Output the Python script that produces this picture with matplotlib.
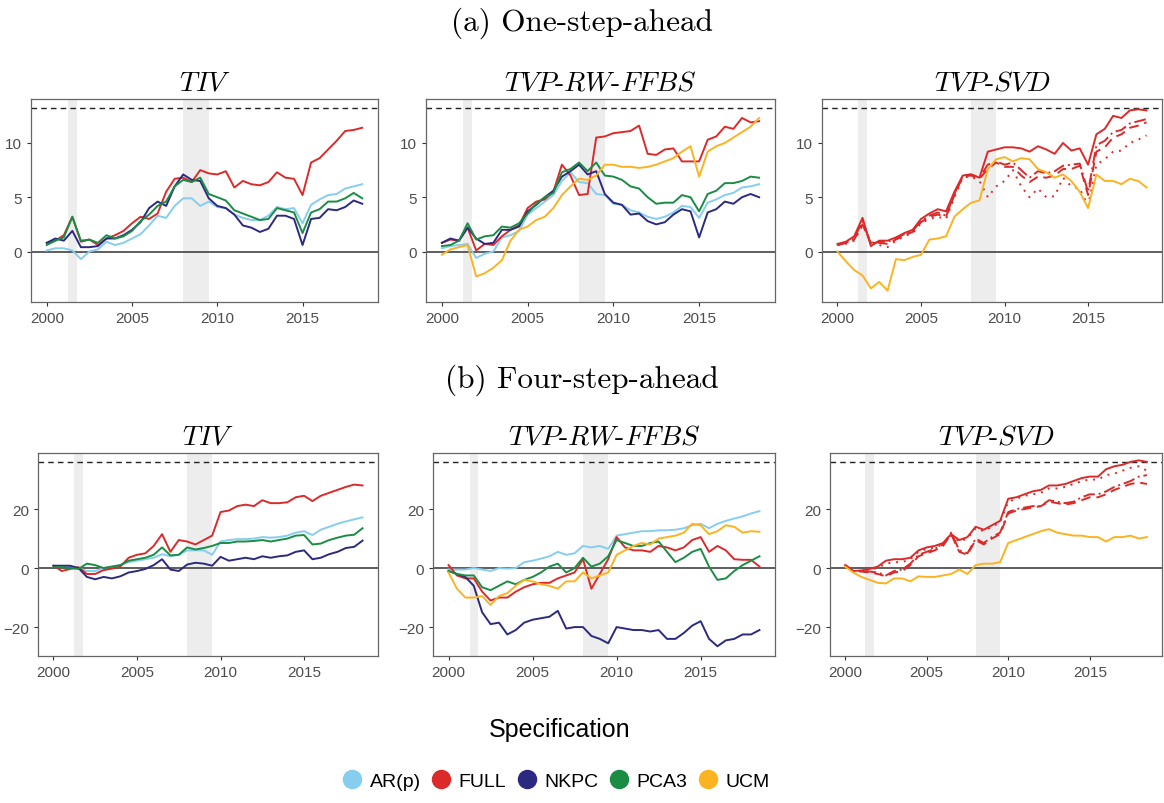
import matplotlib
matplotlib.use("Agg")
import matplotlib.pyplot as plt
from matplotlib.lines import Line2D
import numpy as np

# half-yearly grid, 2000 .. 2018.5
years = np.arange(2000, 2018.75, 0.5)

specs = ["AR(p)", "FULL", "NKPC", "PCA3", "UCM"]
colors = {"AR(p)": "#86cdee", "FULL": "#dc2a2a", "NKPC": "#2c2a80",
          "PCA3": "#1b8c44", "UCM": "#fbb322"}

# (a) one-step-ahead
ar1_tiv = [0.1, 0.3, 0.3, 0.1, -0.7, 0.0, 0.2, 0.9, 0.6, 0.8, 1.2, 1.6, 2.4, 3.3, 3.1, 4.2, 4.9, 4.9, 4.2, 4.6,
           4.1, 4.0, 3.4, 3.1, 2.9, 2.9, 3.3, 4.1, 3.9, 4.0, 2.6, 4.3, 4.8, 5.2, 5.3, 5.8, 6.0, 6.2]
full1_tiv = [0.8, 1.0, 1.5, 3.2, 0.9, 1.1, 0.6, 1.2, 1.5, 1.9, 2.6, 3.2, 3.0, 3.5, 5.5, 6.7, 6.8, 6.4, 7.5, 7.2,
             7.1, 7.4, 5.9, 6.5, 6.2, 6.1, 6.4, 7.3, 6.8, 6.7, 5.2, 8.2, 8.6, 9.4, 10.2, 11.1, 11.2, 11.4]
nkpc1_tiv = [0.8, 1.2, 1.0, 1.9, 0.4, 0.4, 0.5, 1.2, 1.2, 1.5, 2.0, 2.7, 4.0, 4.6, 4.2, 6.0, 7.1, 6.6, 6.5, 4.9,
             4.2, 4.0, 3.4, 2.4, 2.2, 1.8, 2.1, 3.3, 3.3, 3.0, 0.6, 3.0, 3.1, 3.9, 3.8, 4.1, 4.7, 4.4]
pca1_tiv = [0.6, 1.0, 1.3, 3.2, 1.0, 1.1, 0.8, 1.5, 1.2, 1.4, 1.9, 2.8, 3.4, 4.2, 4.6, 6.0, 6.6, 6.4, 6.8, 5.3,
            5.0, 4.7, 3.8, 3.5, 3.2, 2.9, 3.0, 4.0, 3.8, 3.6, 1.7, 3.6, 3.9, 4.6, 4.6, 4.9, 5.4, 4.9]

ar1_ffbs = [0.3, 0.5, 0.6, 0.7, -0.6, -0.2, 0.0, 1.3, 1.5, 1.9, 3.4, 4.0, 4.6, 5.2, 6.5, 7.3, 6.4, 6.3, 5.3, 5.2,
            4.4, 4.3, 3.8, 3.6, 3.2, 3.0, 3.2, 3.6, 4.2, 4.1, 3.1, 4.5, 4.8, 5.2, 5.4, 5.9, 6.0, 6.2]
full1_ffbs = [0.8, 1.1, 1.0, 2.2, 0.1, 0.7, 0.6, 1.4, 2.0, 2.4, 4.0, 4.6, 4.8, 5.5, 8.0, 7.0, 5.2, 5.3, 10.5, 10.6,
              10.9, 11.0, 11.1, 11.6, 9.0, 8.9, 9.4, 9.5, 8.3, 8.3, 8.3, 10.3, 10.6, 11.5, 11.3, 12.3, 11.9, 12.0]
nkpc1_ffbs = [0.8, 1.2, 1.0, 2.2, 1.2, 0.7, 0.8, 2.0, 2.0, 2.3, 3.7, 4.3, 5.0, 5.6, 6.9, 7.4, 8.0, 7.1, 7.4, 5.3,
              4.5, 4.3, 3.4, 3.5, 2.8, 2.5, 2.7, 3.4, 3.9, 3.7, 1.3, 3.6, 3.9, 4.6, 4.4, 5.0, 5.3, 5.0]
pca1_ffbs = [0.5, 0.6, 1.0, 2.6, 1.1, 1.4, 1.5, 2.3, 2.2, 2.6, 3.5, 4.4, 5.0, 5.4, 7.3, 7.6, 8.2, 7.4, 8.2, 7.0,
             6.9, 6.6, 6.0, 5.8, 5.0, 4.4, 4.5, 4.5, 5.2, 5.0, 3.7, 5.3, 5.6, 6.3, 6.3, 6.5, 6.9, 6.8]
ucm1_ffbs = [-0.3, 0.2, 0.4, 0.6, -2.3, -2.0, -1.5, -0.8, 1.0, 2.0, 2.3, 2.9, 3.2, 4.0, 5.2, 6.0, 6.7, 6.6, 7.0, 8.0,
             8.0, 7.8, 7.8, 7.7, 7.8, 8.0, 8.3, 8.6, 9.2, 9.7, 6.9, 9.2, 9.7, 10.0, 10.5, 11.0, 11.5, 12.3]

full1_svd = [0.7, 0.9, 1.4, 3.1, 0.5, 1.0, 1.0, 1.3, 1.7, 2.0, 3.0, 3.5, 3.9, 3.7, 5.5, 7.0, 7.1, 6.8, 9.2, 9.4,
             9.6, 9.6, 9.5, 9.2, 9.7, 9.4, 9.0, 10.0, 9.3, 9.5, 8.0, 10.8, 11.3, 12.5, 12.3, 13.0, 13.1, 13.0]
dashdot1_svd = [0.6, 0.8, 1.2, 2.8, 0.7, 0.9, 0.9, 1.2, 1.6, 1.9, 2.8, 3.3, 3.6, 3.3, 5.3, 7.0, 7.1, 6.8, 8.0, 8.3,
                8.0, 8.2, 7.5, 6.8, 7.4, 7.2, 7.4, 7.9, 8.0, 8.1, 5.5, 9.8, 10.2, 11.0, 11.2, 11.8, 12.0, 12.2]
dashed1_svd = [0.6, 0.8, 1.1, 2.5, 0.8, 0.8, 0.7, 1.1, 1.5, 1.8, 2.7, 3.2, 3.4, 3.2, 5.2, 6.9, 7.0, 6.7, 7.6, 8.2,
               7.8, 7.8, 7.0, 6.4, 6.9, 6.8, 7.0, 7.6, 7.6, 7.9, 5.2, 9.2, 9.6, 10.5, 10.8, 11.4, 11.6, 11.9]
dotted1_svd = [0.6, 0.7, 1.0, 2.4, 0.9, 0.6, 0.4, 1.0, 1.4, 1.7, 2.6, 3.0, 3.2, 3.0, 5.0, 6.8, 6.9, 6.5, 5.0, 6.0,
               6.5, 7.5, 6.0, 5.0, 5.8, 5.0, 5.1, 6.8, 6.0, 5.8, 4.2, 8.0, 8.5, 9.2, 9.3, 10.0, 10.3, 10.7]
ucm1_svd = [0.0, -0.9, -1.7, -2.2, -3.4, -2.8, -3.6, -0.7, -0.8, -0.5, -0.3, 1.1, 1.2, 1.4, 3.2, 3.9, 4.5, 4.7, 7.6, 8.5,
            8.7, 8.3, 8.6, 8.5, 7.6, 7.3, 6.8, 7.1, 6.5, 5.5, 4.0, 7.1, 6.5, 6.5, 6.2, 6.7, 6.5, 5.9]

# (b) four-step-ahead
ar4_tiv = [0.5, 0.5, 0.5, 0.0, -1.0, -1.0, 0.0, 0.5, 1.0, 2.0, 2.5, 3.0, 3.5, 4.7, 4.0, 4.5, 6.0, 6.0, 6.0, 4.5,
           9.0, 9.5, 9.8, 9.8, 10.0, 10.5, 10.3, 10.5, 11.0, 12.0, 12.5, 11.2, 13.0, 14.0, 15.0, 15.8, 16.5, 17.2]
full4_tiv = [0.8, -1.0, -0.3, 0.3, -2.0, -2.0, -0.7, -0.2, 0.5, 3.5, 4.5, 5.0, 7.5, 11.5, 5.5, 9.5, 9.0, 8.0, 9.5, 11.0,
             19.0, 19.5, 21.0, 21.5, 21.0, 23.0, 22.0, 22.0, 22.3, 24.0, 24.5, 22.7, 24.5, 25.5, 26.5, 27.5, 28.3, 28.0]
nkpc4_tiv = [0.8, 0.8, 0.8, 0.0, -3.0, -3.8, -3.0, -3.5, -2.8, -1.5, -1.0, -0.3, 1.0, 3.0, -0.5, -1.0, 1.2, 1.8, 1.5, 0.8,
             3.8, 2.5, 3.0, 3.5, 3.0, 4.0, 3.5, 4.0, 4.3, 5.5, 6.0, 3.0, 3.5, 4.7, 5.5, 6.8, 7.2, 9.3]
pca4_tiv = [0.3, 0.3, 0.0, -0.3, 1.5, 1.0, 0.0, 0.5, 1.0, 2.5, 3.0, 3.5, 4.5, 7.0, 4.3, 4.5, 7.0, 6.3, 6.8, 7.5,
            8.5, 8.5, 9.0, 9.0, 9.2, 9.5, 9.0, 9.5, 10.0, 11.0, 11.2, 8.0, 8.3, 9.5, 10.3, 11.0, 11.3, 13.5]

ar4_ffbs = [-0.5, -0.5, -0.5, 0.0, -0.5, -1.0, 0.0, -0.2, 0.0, 2.0, 2.5, 3.2, 4.0, 5.5, 4.5, 5.0, 7.5, 7.0, 7.5, 6.5,
            11.0, 11.5, 12.0, 12.5, 12.5, 12.8, 12.8, 13.0, 13.5, 14.5, 15.0, 13.5, 15.0, 16.0, 16.8, 17.5, 18.5, 19.3]
full4_ffbs = [1.0, -2.5, -3.5, -3.5, -8.0, -11.0, -10.0, -10.0, -8.0, -6.5, -5.5, -5.0, -5.0, -3.5, -2.5, -1.5, 3.0, -7.0,
              -2.0, 3.0, 10.5, 7.0, 6.0, 6.0, 5.5, 7.5, 7.0, 6.0, 7.0, 9.5, 10.5, 5.5, 7.5, 6.0, 3.0, 2.8, 2.8, 0.5]
nkpc4_ffbs = [-1.0, -2.0, -3.0, -6.0, -15.0, -19.0, -18.5, -22.5, -21.0, -18.5, -17.5, -17.0, -16.5, -14.5, -20.5,
              -20.0, -20.0, -23.0, -24.0, -25.5, -20.0, -20.5, -21.0, -21.0, -21.5, -21.0, -24.0, -24.0, -22.0, -19.5,
              -18.0, -24.0, -26.5, -24.5, -24.0, -22.5, -22.5, -21.0]
pca4_ffbs = [-1.0, -2.0, -2.5, -2.5, -6.5, -7.5, -6.0, -4.5, -5.5, -4.0, -3.0, -1.5, 0.5, 1.5, -1.5, 0.0, 3.5, 0.5, 1.5,
             4.0, 9.5, 8.5, 7.5, 7.5, 8.5, 9.0, 5.5, 2.0, 3.5, 5.5, 6.5, 0.5, -4.0, -3.5, -1.0, 1.0, 2.5, 4.0]
ucm4_ffbs = [-1.5, -7.0, -10.0, -10.0, -9.5, -12.5, -9.5, -8.5, -6.0, -4.0, -4.5, -5.5, -6.0, -7.0, -4.5, -4.5, -1.5,
             -3.5, -2.5, -1.5, 4.5, 6.0, 7.5, 8.5, 8.0, 10.0, 10.5, 11.0, 12.0, 15.0, 14.5, 11.5, 12.5, 14.5, 14.0,
             12.0, 12.5, 12.3]

full4_svd = [1.0, -1.0, -0.8, -0.3, 0.5, 2.5, 3.0, 3.0, 3.5, 6.0, 7.0, 7.5, 8.5, 11.5, 9.5, 10.5, 14.0, 13.0, 14.5, 16.0,
             23.5, 24.0, 25.0, 26.0, 26.5, 28.0, 28.0, 28.5, 29.5, 30.5, 31.0, 31.0, 33.5, 34.5, 35.0, 36.0, 36.5, 36.0]
dotted4_svd = [1.0, -1.0, -1.0, -0.5, 0.0, 1.5, 2.0, 2.0, 3.0, 5.5, 6.5, 7.0, 8.0, 11.0, 9.0, 10.0, 13.5, 12.5, 14.0,
               15.5, 22.5, 23.5, 24.5, 25.0, 25.5, 27.0, 27.0, 27.5, 28.5, 29.5, 30.0, 30.0, 31.5, 32.0, 33.0, 34.0,
               34.5, 33.0]
dashdot4_svd = [1.0, -1.0, -1.0, -1.2, -1.5, -2.5, -1.0, -0.5, 1.5, 4.5, 5.5, 6.5, 8.0, 12.0, 6.0, 5.0, 10.0, 8.5, 10.5,
                12.0, 19.0, 20.0, 20.5, 21.0, 21.0, 23.0, 22.5, 22.0, 22.5, 24.0, 25.0, 25.0, 26.0, 27.5, 28.5, 29.5,
                31.0, 31.5]
dashed4_svd = [1.0, -1.0, -1.2, -1.5, -2.0, -2.8, -1.5, -1.0, 1.0, 4.0, 5.0, 6.0, 7.5, 11.5, 5.5, 4.5, 9.5, 8.0, 10.0,
               11.5, 18.5, 19.5, 20.0, 20.5, 21.0, 22.5, 22.0, 21.5, 22.0, 23.0, 24.0, 24.0, 25.0, 26.5, 27.5, 28.5,
               29.0, 28.5]
ucm4_svd = [0.5, -1.5, -3.0, -4.0, -5.0, -5.2, -3.5, -3.5, -4.5, -2.8, -3.0, -3.0, -2.5, -2.0, -0.5, -2.0, 1.0, 1.5, 1.5,
            2.0, 8.5, 9.5, 10.5, 11.5, 12.5, 13.2, 12.0, 11.5, 11.0, 11.0, 10.5, 10.5, 9.0, 10.5, 10.5, 11.0, 10.0, 10.5]

recessions = [(2001.25, 2001.75), (2008.0, 2009.5)]
benchmark = {"one": 13.2, "four": 36.0}
ylims = {"one": (-4.65, 14.05), "four": (-29.8, 39.0)}
yticks = {"one": [0, 5, 10], "four": [-20, 0, 20]}

panels_one = [
    ("TIV", [("AR(p)", "-", ar1_tiv), ("FULL", "-", full1_tiv), ("NKPC", "-", nkpc1_tiv), ("PCA3", "-", pca1_tiv)]),
    ("TVP-RW-FFBS", [("AR(p)", "-", ar1_ffbs), ("FULL", "-", full1_ffbs), ("NKPC", "-", nkpc1_ffbs),
                     ("PCA3", "-", pca1_ffbs), ("UCM", "-", ucm1_ffbs)]),
    ("TVP-SVD", [("FULL", "-", full1_svd), ("FULL", (0, (6, 2, 1, 2)), dashdot1_svd), ("FULL", (0, (5, 3)), dashed1_svd),
                 ("FULL", (0, (1, 3)), dotted1_svd), ("UCM", "-", ucm1_svd)]),
]
panels_four = [
    ("TIV", [("AR(p)", "-", ar4_tiv), ("FULL", "-", full4_tiv), ("NKPC", "-", nkpc4_tiv), ("PCA3", "-", pca4_tiv)]),
    ("TVP-RW-FFBS", [("AR(p)", "-", ar4_ffbs), ("FULL", "-", full4_ffbs), ("NKPC", "-", nkpc4_ffbs),
                     ("PCA3", "-", pca4_ffbs), ("UCM", "-", ucm4_ffbs)]),
    ("TVP-SVD", [("FULL", "-", full4_svd), ("FULL", (0, (1, 3)), dotted4_svd), ("FULL", (0, (6, 2, 1, 2)), dashdot4_svd),
                 ("FULL", (0, (5, 3)), dashed4_svd), ("UCM", "-", ucm4_svd)]),
]

plt.rcParams["font.family"] = ["Liberation Sans", "DejaVu Sans"]
plt.rcParams["mathtext.fontset"] = "cm"

W, H = 1164, 804
fig = plt.figure(figsize=(W / 100, H / 100), dpi=100)

# axes boxes in pixels: (left, right, top, bottom)
boxes_one = [(31, 378, 100, 303), (426, 775, 100, 303), (822, 1162, 100, 303)]
boxes_four = [(38, 378, 454, 657), (433, 775, 454, 657), (830, 1162, 454, 657)]


def make_title(name):
    return r"$\mathit{" + name.replace("-", r"\text{-}") + "}$"


def draw_panel(box, name, series, key):
    l, r, t, b = box
    ax = fig.add_axes([l / W, 1 - b / H, (r - l) / W, (b - t) / H])
    for a, z in recessions:
        ax.axvspan(a, z, color="#ededed", lw=0, zorder=0)
    ax.axhline(0, color="#333333", lw=1.1, zorder=1)
    ax.axhline(benchmark[key], color="#222222", lw=1.0, ls=(0, (4, 3)), zorder=1)
    for spec, ls, vals in series:
        ax.plot(years, vals, color=colors[spec], ls=ls, lw=1.4, zorder=2)
    ax.set_xlim(1999.075, 2019.425)
    ax.set_ylim(*ylims[key])
    ax.set_xticks([2000, 2005, 2010, 2015])
    ax.set_yticks(yticks[key])
    ax.set_yticklabels([str(v).replace("-", "\u2212") for v in yticks[key]])
    ax.tick_params(colors="#333333", labelcolor="#4d4d4d", labelsize=11, length=3, width=0.8)
    for s in ax.spines.values():
        s.set_color("#666666")
        s.set_linewidth(0.9)
    ax.set_title(make_title(name), fontsize=20, pad=7)
    return ax


for box, (name, series) in zip(boxes_one, panels_one):
    draw_panel(box, name, series, "one")
for box, (name, series) in zip(boxes_four, panels_four):
    draw_panel(box, name, series, "four")

fig.text(0.5, 1 - 23 / H, "(a) One-step-ahead", family="cmr10", fontsize=22.5, ha="center", va="center")
fig.text(0.5, 1 - 380 / H, "(b) Four-step-ahead", family="cmr10", fontsize=22.5, ha="center", va="center")

fig.text(560 / W, 1 - 730 / H, "Specification", fontsize=18, ha="center", va="center")
handles = [Line2D([], [], marker="o", ls="", color=colors[s], markersize=13) for s in specs]
fig.legend(handles, specs, loc="center", bbox_to_anchor=(556 / W, 1 - 782 / H), ncol=5, frameon=False,
           fontsize=14, handlelength=1.0, handletextpad=0.4, columnspacing=0.55, borderaxespad=0)

fig.savefig("out.png", dpi=100)
